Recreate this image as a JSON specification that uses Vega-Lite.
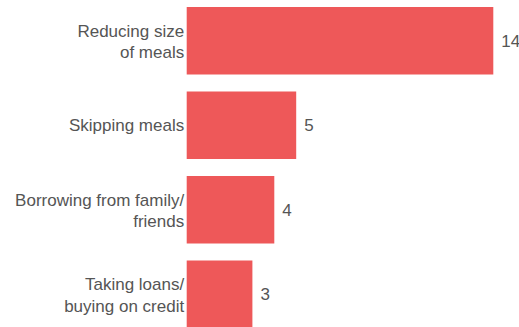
{
  "$schema": "https://vega.github.io/schema/vega-lite/v6.json",
  "autosize": {"type": "none"},
  "width": 306.6,
  "height": 327,
  "padding": {"left": 186.7, "top": 0, "right": 25.7, "bottom": 0},
  "config": {
    "view": {"stroke": null},
    "font": "Liberation Sans"
  },
  "data": {
    "values": [
      {"strategy": "Reducing size|of meals", "value": 14},
      {"strategy": "Skipping meals", "value": 5},
      {"strategy": "Borrowing from family/|friends", "value": 4},
      {"strategy": "Taking loans/|buying on credit", "value": 3}
    ]
  },
  "encoding": {
    "y": {
      "field": "strategy",
      "type": "nominal",
      "sort": null,
      "scale": {"range": [-1.5, 336.5], "paddingInner": 0.2, "paddingOuter": 0.1},
      "axis": {
        "title": null,
        "domain": false,
        "ticks": false,
        "labelPadding": 3,
        "labelFontSize": 17,
        "labelColor": "#555555",
        "labelLimit": 0,
        "labelLineHeight": 21.7,
        "labelFont": "Liberation Sans",
        "labelExpr": "split(datum.label, '|')",
        "labelOffset": {"condition": {"test": "indexof(datum.value, '|') >= 0", "value": -9}, "value": 1}
      }
    },
    "x": {
      "field": "value",
      "type": "quantitative",
      "scale": {"domain": [0, 14], "nice": false},
      "axis": null
    }
  },
  "layer": [
    {"mark": {"type": "bar", "color": "#EE5859"}},
    {
      "mark": {"type": "text", "align": "left", "baseline": "middle", "dx": 8, "dy": 1, "fontSize": 17, "color": "#555555", "font": "Liberation Sans"},
      "encoding": {"text": {"field": "value", "type": "quantitative"}}
    }
  ]
}
